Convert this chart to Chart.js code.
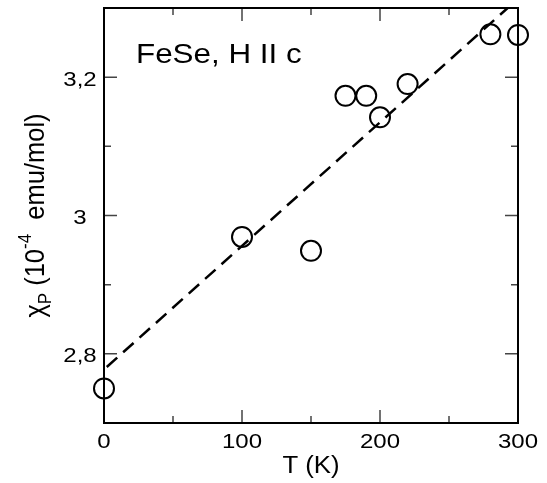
<!DOCTYPE html>
<html>
<head>
<meta charset="utf-8">
<script src="https://cdn.jsdelivr.net/npm/chart.js@4"></script>
<style>
    html, body { margin: 0; padding: 0; background: #fff; }
    #wrap { width: 547px; height: 483px; }
</style>
</head>
<body>
<div id="wrap"><canvas id="chi-chart" width="547" height="483"></canvas></div>
<script>
// Pauli susceptibility of FeSe vs temperature, H || c.
const tempK = [0, 100, 150, 175, 190, 200, 220, 280, 300];
const chiP = [2.75, 2.969, 2.949, 3.173, 3.173, 3.142, 3.19, 3.262, 3.261];
const fitT = [2, 292.5];
const fitChi = [2.781, 3.3];
const xMajor = [0, 100, 200, 300];
const xMinor = [50, 150, 250];
const yMajor = [2.8, 3.0, 3.2];
const yMinor = [2.7, 2.9, 3.1, 3.3];
const yTickText = ['2,8', '3', '3,2'];

const FONT = '"Liberation Sans", Arial, sans-serif';

// text in the source figure is a little wider than it is tall
function wideText(ctx, text, x, y, size, stretch, align) {
    ctx.save();
    ctx.font = size + 'px ' + FONT;
    const w = ctx.measureText(text).width * stretch;
    let left = x;
    if (align === 'center') left = x - w / 2;
    if (align === 'right') left = x - w;
    ctx.translate(left, y);
    ctx.scale(stretch, 1);
    ctx.textAlign = 'left';
    ctx.fillText(text, 0, 0);
    ctx.restore();
}

const frameTicks = {
    id: 'frameTicks',
    afterDraw(chart) {
        const { ctx, chartArea: a, scales: { x, y } } = chart;
        ctx.save();
        ctx.strokeStyle = '#444';
        ctx.lineWidth = 1.5;
        const tick = (v, len, horiz) => {
            ctx.beginPath();
            if (horiz) {
                const px = x.getPixelForValue(v);
                ctx.moveTo(px, a.bottom); ctx.lineTo(px, a.bottom - len);
                ctx.moveTo(px, a.top); ctx.lineTo(px, a.top + len);
            } else {
                const py = y.getPixelForValue(v);
                ctx.moveTo(a.left, py); ctx.lineTo(a.left + len, py);
                ctx.moveTo(a.right, py); ctx.lineTo(a.right - len, py);
            }
            ctx.stroke();
        };
        xMajor.forEach(v => tick(v, 13, true));
        xMinor.forEach(v => tick(v, 7, true));
        yMajor.forEach(v => tick(v, 13, false));
        yMinor.forEach(v => tick(v, 7, false));

        ctx.strokeStyle = '#000';
        ctx.lineWidth = 2;
        ctx.strokeRect(a.left, a.top, a.right - a.left, a.bottom - a.top);

        ctx.fillStyle = '#000';
        ctx.textBaseline = 'alphabetic';

        // tick labels
        xMajor.forEach(v => wideText(ctx, String(v), x.getPixelForValue(v), a.bottom + 25, 20, 1.2, 'center'));
        yMajor.forEach((v, i) => wideText(ctx, yTickText[i], 80, y.getPixelForValue(v) + 8.5, 20, 1.2, 'center'));

        // axis title and annotation
        wideText(ctx, 'T (K)', (a.left + a.right) / 2, 473, 23, 1.12, 'center');
        wideText(ctx, 'FeSe, H II c', 136, 63, 28, 1.12, 'left');

        // y-axis title with sub/superscript
        ctx.translate(44, (a.top + a.bottom) / 2);
        ctx.scale(1.1, 1);
        ctx.rotate(-Math.PI / 2);
        const parts = [
            { t: 'χ', size: 25.5, dy: 0 },
            { t: 'P', size: 17, dy: 6 },
            { t: ' (10', size: 25.5, dy: 0 },
            { t: '-4', size: 17, dy: -12 },
            { t: '  emu/mol)', size: 25.5, dy: 0 }
        ];
        let total = 0;
        parts.forEach(p => { ctx.font = p.size + 'px ' + FONT; total += ctx.measureText(p.t).width; });
        let cx = -total / 2;
        parts.forEach(p => {
            ctx.font = p.size + 'px ' + FONT;
            ctx.fillText(p.t, cx, p.dy);
            cx += ctx.measureText(p.t).width;
        });
        ctx.restore();
    }
};

new Chart(document.getElementById('chi-chart'), {
    type: 'scatter',
    data: {
        datasets: [
            {
                label: 'fit',
                data: fitT.map((t, i) => ({ x: t, y: fitChi[i] })),
                showLine: true,
                borderColor: '#000',
                borderWidth: 2.5,
                borderDash: [14, 8],
                pointRadius: 0,
                fill: false
            },
            {
                label: 'chiP',
                data: tempK.map((t, i) => ({ x: t, y: chiP[i] })),
                pointStyle: 'circle',
                pointRadius: 10,
                borderWidth: 2,
                borderColor: '#000',
                backgroundColor: 'rgba(0,0,0,0)',
                showLine: false,
                clip: false
            }
        ]
    },
    options: {
        responsive: false,
        animation: false,
        devicePixelRatio: 1,
        layout: { autoPadding: false, padding: { left: 0, top: 8, right: 29, bottom: 0 } },
        plugins: { legend: { display: false }, tooltip: { enabled: false } },
        scales: {
            x: {
                type: 'linear',
                min: 0,
                max: 300,
                afterBuildTicks: s => { s.ticks = xMajor.map(v => ({ value: v })); },
                afterFit: s => { s.height = 60; },
                grid: { display: false, drawTicks: false },
                border: { display: false },
                ticks: { display: false }
            },
            y: {
                type: 'linear',
                min: 2.7,
                max: 3.3,
                afterBuildTicks: s => { s.ticks = yMajor.map(v => ({ value: v })); },
                afterFit: s => { s.width = 104; },
                grid: { display: false, drawTicks: false },
                border: { display: false },
                ticks: { display: false }
            }
        }
    },
    plugins: [frameTicks]
});
</script>
</body>
</html>
